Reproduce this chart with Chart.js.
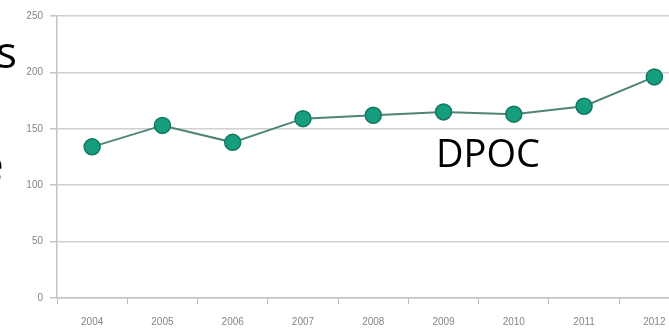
<!DOCTYPE html>
<html>
<head>
<meta charset="utf-8">
<script src="https://cdn.jsdelivr.net/npm/chart.js@4/dist/chart.umd.min.js"></script>
<style>
  html, body { margin:0; padding:0; width:669px; height:334px; overflow:hidden; background:#fff; }
  #wrap { position:relative; width:669px; height:334px; overflow:hidden; }
  canvas { position:absolute; left:0; top:0; }
  .txt { position:absolute; font-family:"Open Sans", "Noto Sans", sans-serif; color:#000; white-space:nowrap; line-height:1; }
</style>
</head>
<body>
<div id="wrap">
  <canvas id="c" width="699" height="334"></canvas>
  <div class="txt" style="left:-4px; top:29px; font-size:44px;">s</div>
  <div class="txt" style="left:-21px; top:141px; font-size:44px;">e</div>
  <div class="txt" style="left:436px; top:133px; font-size:38px;">DPOC</div>
</div>
<script>
const years = ["2004","2005","2006","2007","2008","2009","2010","2011","2012"];
const dpoc = [134, 153, 138, 159, 162, 165, 163, 170, 196];
const yTicks = [0, 50, 100, 150, 200, 250];

const ctx = document.getElementById('c').getContext('2d');
new Chart(ctx, {
  type: 'line',
  data: {
    labels: years,
    datasets: [{
      label: 'DPOC',
      data: dpoc,
      borderColor: '#4f8576',
      borderWidth: 2,
      backgroundColor: '#169c7e',
      pointBackgroundColor: '#169c7e',
      pointBorderColor: '#117a61',
      pointBorderWidth: 1.5,
      pointRadius: 8,
      tension: 0,
      fill: false
    }]
  },
  options: {
    responsive: false,
    animation: false,
    layout: { padding: { top: 16, right: 3, left: 0, bottom: 0 } },
    plugins: { legend: { display: false }, tooltip: { enabled: false } },
    scales: {
      x: {
        type: 'category',
        offset: true,
        afterFit: (s) => { s.height = 36; },
        grid: { display: true, drawOnChartArea: false, offset: true, tickLength: 6, color: '#bdbdbd', lineWidth: 1 },
        border: { display: true, color: '#c4c4c4', width: 1.5 },
        ticks: { color: '#858585', font: { family: 'Liberation Sans, Arial, sans-serif', size: 10 }, padding: 12, maxRotation: 0, autoSkip: false }
      },
      y: {
        min: 0,
        max: 250,
        afterFit: (s) => { s.width = 57; },
        afterBuildTicks: (s) => { s.ticks = yTicks.map(v => ({ value: v })); },
        grid: { color: '#d0d0d0', lineWidth: 1.5, tickLength: 7, tickColor: '#c4c4c4' },
        border: { display: true, color: '#c4c4c4', width: 1.5 },
        ticks: { color: '#858585', font: { family: 'Liberation Sans, Arial, sans-serif', size: 10 }, padding: 7 }
      }
    }
  }
});
</script>
</body>
</html>
